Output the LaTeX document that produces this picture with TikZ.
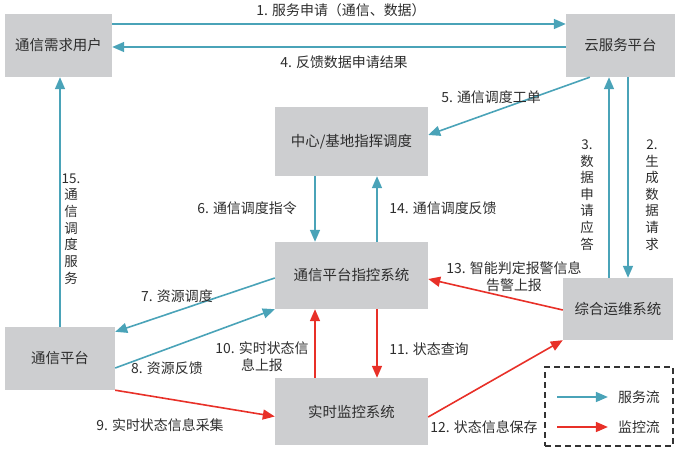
\documentclass[tikz,border=0pt]{standalone}
\usepackage{fontspec}
\setmainfont{Noto Sans CJK SC}
\usetikzlibrary{arrows.meta}
\definecolor{boxgray}{RGB}{205,206,208}
\definecolor{svcblue}{RGB}{74,163,184}
\definecolor{monred}{RGB}{232,48,40}
\definecolor{txtgray}{RGB}{45,45,45}
\tikzset{
  box/.style={fill=boxgray, text=txtgray, inner sep=0pt, font=\fontsize{14.5}{17}\selectfont},
  svc/.style={svcblue, line width=1.6bp, -{Triangle[length=12bp,width=10bp]}},
  mon/.style={monred, line width=1.6bp, -{Triangle[length=12bp,width=10bp]}},
  lbl/.style={text=txtgray, inner sep=1bp, font=\fontsize{14}{17}\selectfont},
  vlbl/.style={lbl, align=center, font=\fontsize{13.5}{16.7}\selectfont},
  legendbox/.style={draw=black!80, line width=1.2bp, dash pattern=on 6bp off 4bp},
}
\begin{document}
\begin{tikzpicture}[x=1bp,y=-1bp]
  \useasboundingbox (0,0) rectangle (681,453);
  % boxes
  \node[box, minimum width=107bp, minimum height=63bp] (user) at (58.5,45.5) {通信需求用户};
  \node[box, minimum width=109bp, minimum height=63bp] (cloud) at (620.5,45.5) {云服务平台};
  \node[box, minimum width=153bp, minimum height=69bp] (center) at (351.5,141.5) {中心/基地指挥调度};
  \node[box, minimum width=153bp, minimum height=67bp] (ctrl) at (351.5,275.5) {通信平台指控系统};
  \node[box, minimum width=110bp, minimum height=62bp] (ops) at (618,309) {综合运维系统};
  \node[box, minimum width=110bp, minimum height=63bp] (plat) at (60,358.5) {通信平台};
  \node[box, minimum width=153bp, minimum height=67bp] (monitor) at (351.5,411.5) {实时监控系统};
  % service flow
  \draw[svc] ([yshift=21.5bp]user.east) -- ([yshift=21.5bp]cloud.west);
  \draw[svc] ([yshift=-1.5bp]cloud.west) -- ([yshift=-1.5bp]user.east);
  \draw[svc] ([xshift=10bp]ops.north |- cloud.south) -- ([xshift=10bp]ops.north);
  \draw[svc] ([xshift=-9bp]ops.north) -- ([xshift=-9bp]ops.north |- cloud.south);
  \draw[svc] ([xshift=24bp]cloud.south west) -- ([yshift=6.5bp]center.east);
  \draw[svc] ([xshift=-36.5bp]center.south) -- ([xshift=-36.5bp]ctrl.north);
  \draw[svc] ([xshift=25.5bp]ctrl.north) -- ([xshift=25.5bp]center.south);
  \draw[svc] ([yshift=-2.5bp]ctrl.west) -- ([yshift=-5bp]plat.north east);
  \draw[svc] ([yshift=-9.5bp]plat.east) -- (ctrl.south west);
  \draw[svc] (plat.north) -- (plat.north |- user.south);
  % monitoring flow
  \draw[mon] (plat.south east) -- ([yshift=-5bp]monitor.west);
  \draw[mon] ([xshift=-36.5bp]monitor.north) -- ([xshift=-36.5bp]ctrl.south);
  \draw[mon] ([xshift=25.5bp]ctrl.south) -- ([xshift=25.5bp]monitor.north);
  \draw[mon] ([yshift=-5.5bp]monitor.east) -- (ops.south west);
  \draw[mon] ([yshift=-1bp]ops.west) -- ([yshift=-3.5bp]ctrl.east);
  % labels
  \node[lbl] (l1) at (341,10) {1. 服务申请（通信、数据）};
  \node[lbl] (l4) at (344,62) {4. 反馈数据申请结果};
  \node[lbl] (l5) at (491,97) {5. 通信调度工单};
  \node[lbl] (l6) at (247,208) {6. 通信调度指令};
  \node[lbl] (l14) at (443,208) {14. 通信调度反馈};
  \node[vlbl] (l3) at (587,195) {3.\\数\\据\\申\\请\\应\\答};
  \node[vlbl] (l2) at (652,195) {2.\\生\\成\\数\\据\\请\\求};
  \node[vlbl] (l15) at (71,229) {15.\\通\\信\\调\\度\\服\\务};
  \node[lbl, align=center] (l13) at (514,276.5) {13. 智能判定报警信息\\告警上报};
  \node[lbl] (l7) at (177,296) {7. 资源调度};
  \node[lbl] (l8) at (167,368) {8. 资源反馈};
  \node[lbl, align=center] (l10) at (262,356.5) {10. 实时状态信\\息上报};
  \node[lbl] (l9) at (160,425) {9. 实时状态信息采集};
  \node[lbl] (l11) at (429,349) {11. 状态查询};
  \node[lbl] (l12) at (484,427) {12. 状态信息保存};
  % legend
  \node[legendbox, minimum width=128bp, minimum height=79bp] (legend) at (609,406.5) {};
  \node[lbl] (svctxt) at (639,397) {服务流};
  \node[lbl] (montxt) at (639,427) {监控流};
  \draw[svc] ([xshift=13bp]legend.west |- svctxt) -- ([xshift=-9bp]svctxt.west);
  \draw[mon] ([xshift=13bp]legend.west |- montxt) -- ([xshift=-9bp]montxt.west);
\end{tikzpicture}
\end{document}
